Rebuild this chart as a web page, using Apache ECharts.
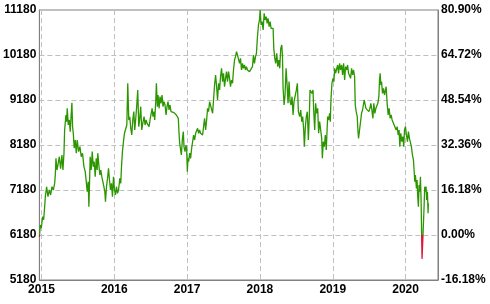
<!DOCTYPE html>
<html>
<head>
<meta charset="utf-8">
<script src="https://cdn.jsdelivr.net/npm/echarts@6/dist/echarts.min.js"></script>
<style>
html,body{margin:0;padding:0;background:#fff;}
#c{width:490px;height:304px;}
</style>
</head>
<body>
<div id="c"></div>
<script>
// Time positions as decimal years
const dates = [
2014.972,2014.985,2014.998,2015.016,2015.030,2015.044,2015.053,2015.071,2015.089,2015.108,
2015.126,2015.144,2015.163,2015.181,2015.190,2015.199,2015.213,2015.226,2015.245,2015.263,
2015.281,2015.295,2015.309,2015.318,2015.336,2015.345,2015.354,2015.368,2015.382,2015.395,
2015.405,2015.418,2015.427,2015.437,2015.450,2015.464,2015.478,2015.491,2015.510,2015.528,
2015.546,2015.564,2015.583,2015.601,2015.615,2015.628,2015.642,2015.651,2015.660,2015.669,
2015.683,2015.697,2015.711,2015.724,2015.738,2015.752,2015.765,2015.774,2015.788,2015.802,
2015.815,2015.829,2015.843,2015.857,2015.870,2015.879,2015.893,2015.907,2015.921,2015.934,
2015.948,2015.962,2015.975,2015.989,2016.003,2016.016,2016.030,2016.044,2016.058,2016.076,
2016.089,2016.099,2016.112,2016.126,2016.140,2016.153,2016.172,2016.185,2016.199,2016.213,
2016.226,2016.240,2016.254,2016.268,2016.281,2016.295,2016.309,2016.322,2016.336,2016.350,
2016.363,2016.377,2016.391,2016.409,2016.423,2016.437,2016.450,2016.464,2016.478,2016.491,
2016.505,2016.519,2016.532,2016.546,2016.555,2016.569,2016.578,2016.592,2016.601,2016.615,
2016.628,2016.642,2016.656,2016.669,2016.683,2016.697,2016.711,2016.724,2016.738,2016.752,
2016.765,2016.779,2016.793,2016.806,2016.820,2016.838,2016.852,2016.866,2016.879,2016.889,
2016.898,2016.911,2016.921,2016.934,2016.948,2016.957,2016.971,2016.985,2016.994,2017.003,
2017.012,2017.021,2017.035,2017.048,2017.062,2017.076,2017.089,2017.103,2017.117,2017.131,
2017.144,2017.158,2017.172,2017.185,2017.199,2017.213,2017.226,2017.240,2017.254,2017.268,
2017.281,2017.295,2017.309,2017.318,2017.336,2017.350,2017.363,2017.377,2017.391,2017.405,
2017.418,2017.432,2017.446,2017.459,2017.473,2017.487,2017.500,2017.514,2017.528,2017.541,
2017.555,2017.569,2017.583,2017.596,2017.610,2017.624,2017.637,2017.651,2017.665,2017.678,
2017.692,2017.706,2017.720,2017.733,2017.747,2017.761,2017.774,2017.788,2017.802,2017.815,
2017.829,2017.843,2017.857,2017.870,2017.884,2017.898,2017.911,2017.925,2017.939,2017.952,
2017.966,2017.980,2017.994,2018.003,2018.016,2018.030,2018.044,2018.058,2018.071,2018.085,
2018.099,2018.112,2018.126,2018.140,2018.153,2018.167,2018.181,2018.190,2018.204,2018.217,
2018.231,2018.245,2018.259,2018.272,2018.286,2018.300,2018.309,2018.318,2018.332,2018.345,
2018.359,2018.373,2018.386,2018.400,2018.414,2018.427,2018.441,2018.455,2018.468,2018.482,
2018.500,2018.514,2018.528,2018.546,2018.560,2018.574,2018.587,2018.601,2018.610,2018.624,
2018.637,2018.651,2018.665,2018.678,2018.688,2018.701,2018.715,2018.729,2018.738,2018.752,
2018.765,2018.779,2018.793,2018.806,2018.820,2018.834,2018.848,2018.857,2018.870,2018.884,
2018.898,2018.911,2018.921,2018.930,2018.943,2018.957,2018.966,2018.975,2018.989,2019.003,
2019.016,2019.026,2019.039,2019.053,2019.067,2019.080,2019.094,2019.108,2019.122,2019.135,
2019.149,2019.163,2019.176,2019.190,2019.204,2019.217,2019.231,2019.245,2019.259,2019.272,
2019.286,2019.300,2019.309,2019.322,2019.336,2019.345,2019.354,2019.368,2019.382,2019.395,
2019.409,2019.423,2019.432,2019.441,2019.455,2019.468,2019.482,2019.496,2019.510,2019.523,
2019.537,2019.551,2019.564,2019.578,2019.592,2019.605,2019.619,2019.633,2019.642,2019.651,
2019.660,2019.670,2019.683,2019.697,2019.711,2019.724,2019.733,2019.747,2019.761,2019.774,
2019.788,2019.802,2019.815,2019.829,2019.843,2019.857,2019.870,2019.884,2019.898,2019.911,
2019.921,2019.934,2019.948,2019.962,2019.975,2019.985,2019.998,2020.012,2020.026,2020.039,
2020.053,2020.067,2020.080,2020.094,2020.108,2020.117,2020.126,2020.135,2020.149,2020.158,
2020.167,2020.176,2020.185,2020.195,2020.204,2020.213,2020.226,2020.240,2020.254,2020.263,
2020.272,2020.281,2020.290,2020.300,2020.309,2020.313
];
const prices = [
6142,6402,6336,6587,6520,6809,7031,7253,7031,7180,
7069,7253,7180,7327,7513,7884,7624,7735,7920,7653,
7957,7624,7995,8513,8847,8699,8995,8625,8736,8476,
8773,9120,8588,8440,8107,8291,7995,8291,8032,8143,
7920,7995,7698,7587,7365,7143,7365,6809,7327,7920,
7624,8032,7698,7809,7476,7884,7624,7995,7735,7513,
7624,7476,7365,7253,7143,6920,7253,7438,7661,7402,
7180,7327,7031,7476,7180,7069,7253,7106,7180,7438,
7327,7698,8032,8254,8440,8402,8624,9551,8736,8809,
8551,8402,8736,8921,8513,8773,9069,9402,8588,8773,
9032,8513,8662,8809,8624,8736,8662,8699,8588,8736,
8699,8995,8809,8921,8736,9143,9551,9032,9291,8995,
9254,9106,9291,9032,9143,9069,8847,9032,9143,8958,
9069,8921,8958,8884,8900,8884,8847,8870,8773,8440,
8217,8180,7958,8291,8476,8143,8032,8180,8069,7587,
7884,7809,8000,7884,8106,8254,8402,8291,8440,8476,
8551,8440,8513,8440,8476,8402,8588,8773,8513,8736,
8995,8921,9143,9106,9143,8884,9180,9513,9736,9476,
9180,9551,9402,9699,9884,9588,9773,9476,9662,9810,
9588,9810,9662,9476,9625,9551,9847,10069,10143,10254,
10180,10217,9995,10106,9847,9995,9884,9958,9847,9921,
9847,9884,9810,9847,9810,9921,10180,9995,10143,10217,
10587,10847,10958,11180,10847,10921,10736,11106,10958,11032,
10884,10995,10810,10921,10773,10810,10773,10328,10106,9995,
10217,9921,10069,9884,10328,10402,10180,9440,9069,9291,
9884,9513,9106,9588,9143,9069,9254,8847,9143,9254,
9402,9551,8921,8810,8958,8699,8810,8513,8143,8588,
8810,8921,8291,8810,9402,9402,9328,9402,8958,8513,
9106,8884,8995,8440,8699,8513,8328,7884,8254,8143,
8402,8069,8476,8810,8736,8884,8699,9180,9551,9662,
9588,9884,9773,9736,9958,9773,9995,9847,9958,9736,
9995,9625,9921,9847,9958,9773,9810,9662,9884,9736,
9847,9699,9069,8921,8810,8513,8328,8513,8699,8884,
8958,8995,9180,9143,8995,8958,9032,8921,8995,9106,
8958,8773,9106,8884,8995,8958,9106,9254,9624,9773,
9513,9588,9328,9440,9291,9402,9476,9106,8847,8995,
8773,8847,8736,8773,8624,8662,8513,8588,8402,8513,
8143,8440,8254,8365,8143,8513,8588,8402,8254,8476,
8328,8291,8143,7958,7847,7624,7365,7513,7217,7402,
7032,6810,7291,7143,7476,6958,5650,6210,6810,7254,
7143,7254,6958,7143,6662,6884
];
const yearTicks = [2015, 2016, 2017, 2018, 2019, 2020];
const baseValue = 6180;
const priceMin = 5180, priceMax = 11180, priceStep = 1000;
const pctMin = -16.18, pctMax = 80.90, pctStep = 16.18;

const chart = echarts.init(document.getElementById('c'), null, {renderer: 'canvas'});
const labelFont = {color: '#000', fontWeight: 'bold', fontSize: 12, fontFamily: 'Liberation Sans, Arial, sans-serif'};
const gridLine = {show: true, lineStyle: {color: '#c0c0c0', type: [5, 3], width: 1}};
chart.setOption({
  animation: false,
  backgroundColor: '#fff',
  grid: {left: 39, right: 52, top: 10, bottom: 24, show: true, borderColor: '#808080', borderWidth: 1, containLabel: false},
  xAxis: {
    type: 'value', min: 2014.9712, max: 2020.4452,
    axisLine: {show: true, onZero: false, lineStyle: {color: '#808080'}},
    axisTick: {show: false, customValues: yearTicks},
    axisLabel: Object.assign({customValues: yearTicks, margin: 4, formatter: v => String(Math.round(v))}, labelFont),
    splitLine: gridLine
  },
  yAxis: [
    {
      type: 'value', position: 'left', min: priceMin, max: priceMax, interval: priceStep,
      axisLine: {show: true, onZero: false, lineStyle: {color: '#808080'}},
      axisTick: {show: false},
      axisLabel: Object.assign({margin: 3, formatter: v => String(v)}, labelFont),
      splitLine: gridLine
    },
    {
      type: 'value', position: 'right', min: pctMin, max: pctMax, interval: pctStep,
      axisLine: {show: true, onZero: false, lineStyle: {color: '#808080'}},
      axisTick: {show: false},
      axisLabel: Object.assign({margin: 3, formatter: v => v.toFixed(2) + '%'}, labelFont),
      splitLine: {show: false}
    }
  ],
  visualMap: {
    show: false, type: 'piecewise', dimension: 1, seriesIndex: 0,
    pieces: [
      {gte: priceMin, lt: baseValue, color: '#dc143c'},
      {gte: baseValue, lte: priceMax, color: '#2b9600'}
    ],
    outOfRange: {color: '#2b9600'}
  },
  series: [{
    type: 'line', yAxisIndex: 0, showSymbol: false, symbol: 'none',
    lineStyle: {width: 1.3},
    data: dates.map((d, i) => [d, prices[i]])
  }]
});
</script>
</body>
</html>
